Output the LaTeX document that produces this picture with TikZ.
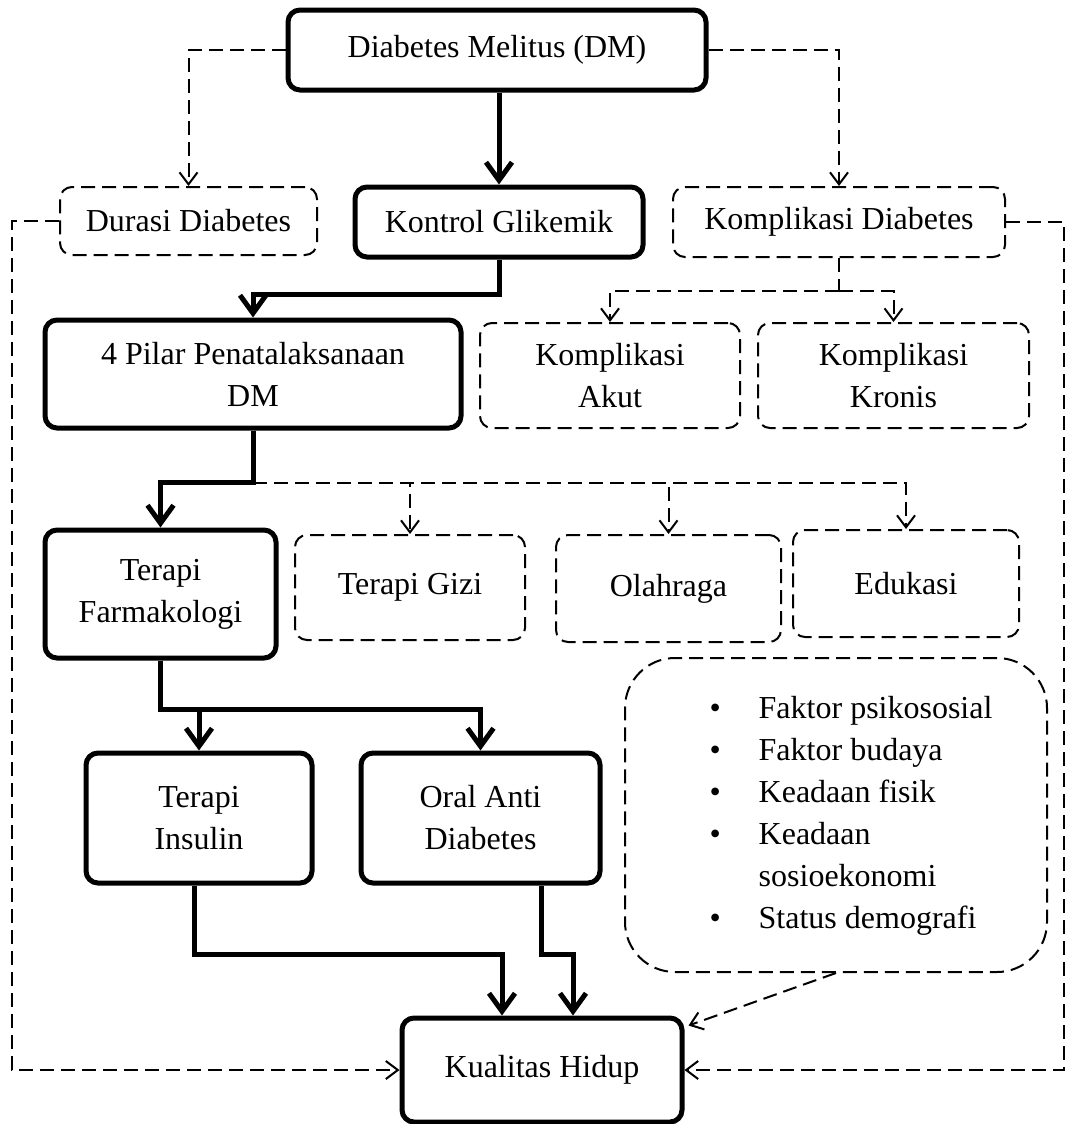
\documentclass[tikz,border=0pt]{standalone}
\usepackage{fontspec}
\setmainfont{Liberation Serif}
\usetikzlibrary{arrows.meta}
\tikzset{
  solidbox/.style={draw, line width=2.5pt, rounded corners=6pt, align=center,
    inner sep=2pt, font=\fontsize{16}{21}\selectfont},
  dashbox/.style={solidbox, line width=1pt, dash pattern=on 7pt off 3.5pt},
  thickarr/.style={-{Straight Barb[length=9pt,width=13pt]}, line width=2.5pt},
  dasharr/.style={-{Straight Barb[length=6pt,width=9pt]}, line width=1pt,
    dash pattern=on 7pt off 3.5pt},
  dashline/.style={line width=1pt, dash pattern=on 7pt off 3.5pt}
}
\begin{document}
\begin{tikzpicture}[x=0.5pt, y=-0.5pt]
  \useasboundingbox (0,0) rectangle (1066,1124);
  % top row
  \node[solidbox, minimum width=209pt, minimum height=40pt] (dm) at (497,50) {Diabetes Melitus (DM)};
  \node[dashbox, minimum width=128.5pt, minimum height=34pt] (dd) at (188.5,221) {Durasi Diabetes};
  \node[solidbox, minimum width=144pt, minimum height=35pt] (kg) at (499,222) {Kontrol Glikemik};
  \node[dashbox, minimum width=166pt, minimum height=35pt] (kd) at (839,222) {Komplikasi Diabetes};
  \node[solidbox, minimum width=208pt, minimum height=54pt] (pilar) at (253,374) {4 Pilar Penatalaksanaan\\DM};
  \node[dashbox, minimum width=130pt, minimum height=52.5pt] (ka) at (610,375.5) {Komplikasi\\Akut};
  \node[dashbox, minimum width=135.5pt, minimum height=52.5pt] (kk) at (893.5,375.5) {Komplikasi\\Kronis};
  % pilar
  \node[solidbox, minimum width=115.5pt, minimum height=64pt] (tf) at (160.5,594) {Terapi\\Farmakologi};
  \node[dashbox, minimum width=115pt, minimum height=52.5pt] (tg) at (410,587.5) {Terapi Gizi};
  \node[dashbox, minimum width=112.5pt, minimum height=53.5pt] (ol) at (668.5,588.5) {Olahraga};
  \node[dashbox, minimum width=113pt, minimum height=53.5pt] (ed) at (906,583.5) {Edukasi};
  \node[dashbox, rounded corners=25pt, minimum width=211pt, minimum height=157pt] (bf) at (836,815)
    {\hspace*{15pt}\begin{tabular}{@{}l@{\hspace{19pt}}l@{}}
      \textbullet & Faktor psikososial\\
      \textbullet & Faktor budaya\\
      \textbullet & Keadaan fisik\\
      \textbullet & Keadaan\\
                  & sosioekonomi\\
      \textbullet & Status demografi
    \end{tabular}};
  \node[solidbox, minimum width=113pt, minimum height=65pt] (ins) at (199,818) {Terapi\\Insulin};
  \node[solidbox, minimum width=119.5pt, minimum height=65pt] (oad) at (480.5,818) {Oral Anti\\Diabetes};
  \node[solidbox, minimum width=140pt, minimum height=52pt] (kh) at (542,1070) {Kualitas Hidup};

  % connectors
  \draw[thickarr] (kg.north |- dm.south) -- (kg.north);
  \draw[dasharr] (dm.west) -| (dd.north);
  \draw[dasharr] (dm.east) -| (kd.north);
  \draw[thickarr] (kg.south) -- ++(0,35) -| (pilar.north);
  \draw[dashline] (kd.south) -- ++(0,33) coordinate (kj);
  \draw[dasharr] (kj) -| (ka.north);
  \draw[dasharr] (kj) -| (kk.north);
  \draw[thickarr] (pilar.south) -- ++(0,52) coordinate (pj) -| (tf.north);
  \draw[dasharr] (pj) -| (tg.north);
  \draw[dasharr] (pj) -| (ol.north);
  \draw[dasharr] (pj) -| (ed.north);
  \draw[thickarr] (tf.south) -- ++(0,49) coordinate (fj) -| (ins.north);
  \draw[thickarr] (fj) -| (oad.north);
  \draw[thickarr] ([xshift=-2.5pt]ins.south) -- ++(0,69) -| ([xshift=-20pt]kh.north);
  \draw[thickarr] ([xshift=30.5pt]oad.south) -- ++(0,69) -| ([xshift=15.5pt]kh.north);
  \draw[dasharr] (bf.south) -- ([xshift=2pt,yshift=-5pt]kh.north east);
  \draw[dasharr] (dd.west) -- ++(-47,0) |- (kh.west);
  \draw[dasharr] (kd.east) -- ++(58,0) |- (kh.east);
\end{tikzpicture}
\end{document}
